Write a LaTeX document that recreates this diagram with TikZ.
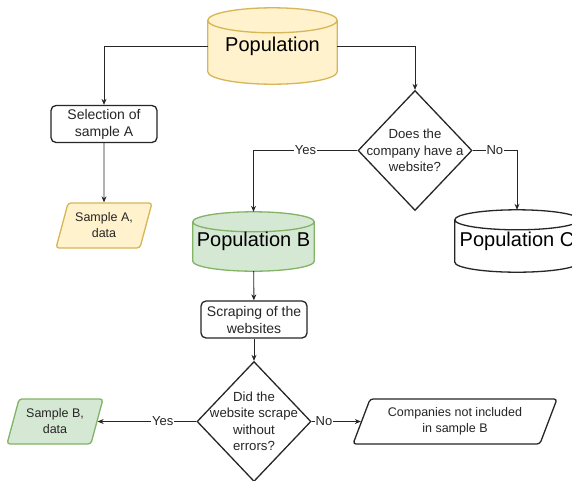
\documentclass[tikz,border=0pt]{standalone}
\usepackage{fontspec}
\setmainfont{Liberation Sans}
\usetikzlibrary{shapes.geometric, arrows.meta, calc, backgrounds}

\definecolor{popfill}{HTML}{FFF2CC}
\definecolor{popline}{HTML}{D6B656}
\definecolor{webfill}{HTML}{D5E8D4}
\definecolor{webline}{HTML}{82B366}

% drum outline behind a named node: #1 node, #2 cap radius, #3 colours
\newcommand{\drumshape}[3]{%
  \path[#3, line width=1.3pt] let \p1=(#1.north west), \p2=(#1.south east),
      \n1={(\x2-\x1)/2} in
    ({\x1},{\y1-#2}) -- ({\x1},{\y2+#2})
      arc[start angle=180, end angle=360, x radius=\n1, y radius=#2]
      -- ({\x2},{\y1-#2})
      arc[start angle=0, end angle=180, x radius=\n1, y radius=#2] -- cycle
    ({\x1},{\y1-#2})
      arc[start angle=180, end angle=360, x radius=\n1, y radius=#2];
}

\begin{document}
\begin{tikzpicture}[x=1pt, y=1pt,
    process/.style={rectangle, rounded corners=5pt, draw=black!85,
        line width=1.3pt, fill=white, minimum width=106pt,
        minimum height=37pt, inner sep=2pt, align=center,
        font=\fontsize{14}{17}\selectfont, text=black!85},
    decision/.style={diamond, draw=black!85, line width=1.3pt, fill=white,
        inner sep=0pt, minimum width=114pt, minimum height=120pt},
    question/.style={align=center, font=\fontsize{13.2}{16.5}\selectfont,
        text=black!85},
    data/.style={trapezium, trapezium left angle=66,
        trapezium right angle=114, trapezium stretches body,
        rounded corners=3pt, line width=1.3pt, minimum width=96pt,
        minimum height=45pt, inner sep=1pt, align=center,
        font=\fontsize{12.5}{16}\selectfont, text=black!85},
    drum/.style={rectangle, inner sep=0pt, font=\fontsize{20}{24}\selectfont},
    link/.style={draw=black!85, line width=0.9pt,
        -{Stealth[length=6pt, width=5pt]}},
    answer/.style={fill=white, inner sep=1pt,
        font=\fontsize{13}{15}\selectfont, text=black!85}
]
    \useasboundingbox (0,0) rectangle (572,-480);

    \node[drum, minimum width=129pt, minimum height=76pt] (pop) at (272.5,-46) {Population};
    \node[process] (sela) at (104,-124) {Selection of\\sample A};
    \node[decision, label={[question]center:Does the\\company have a\\website?}] (q1) at (415,-150.5) {};
    \node[data, draw=popline, fill=popfill] (dataa) at (104,-225.5) {Sample A,\\data};
    \node[drum, minimum width=121pt, minimum height=59pt] (popb) at (253.5,-241.5) {Population B};
    \node[drum, minimum width=124pt, minimum height=62pt] (popc) at (517,-241) {Population C};
    \node[process] (scrape) at (254,-319.5) {Scraping of the\\websites};
    \node[decision, label={[question]center:Did the\\website scrape\\without\\errors?}] (q2) at (254,-421.5) {};
    \node[data, draw=webline, fill=webfill] (datab) at (55,-421.5) {Sample B,\\data};
    \node[data, draw=black!85, fill=white, trapezium left angle=60,
        trapezium right angle=120, minimum width=204pt] (excl) at (455,-421.5)
        {Companies not included\\in sample B};

    \begin{pgfonlayer}{background}
        \fill[white] (0,0) rectangle (572,-480);
        \drumshape{pop}{12.5pt}{fill=popfill, draw=popline}
        \drumshape{popb}{10pt}{fill=webfill, draw=webline}
        \drumshape{popc}{10pt}{fill=white, draw=black!85}
    \end{pgfonlayer}

    \draw[link] (pop.west) -| (sela);
    \draw[link] (pop.east) -| (q1);
    \draw[link] (sela) -- (dataa);
    \draw[link] (q1) -| node[answer, pos=0.25] {Yes} (popb);
    \draw[link] (q1) -| node[answer, pos=0.25] {No} (popc);
    \draw[link] (popb) -- (scrape);
    \draw[link] (scrape) -- (q2);
    \draw[link] (q2) -- node[answer, pos=0.34] {Yes} (datab);
    \draw[link] (q2) -- node[answer, pos=0.25] {No} (excl);
\end{tikzpicture}
\end{document}
